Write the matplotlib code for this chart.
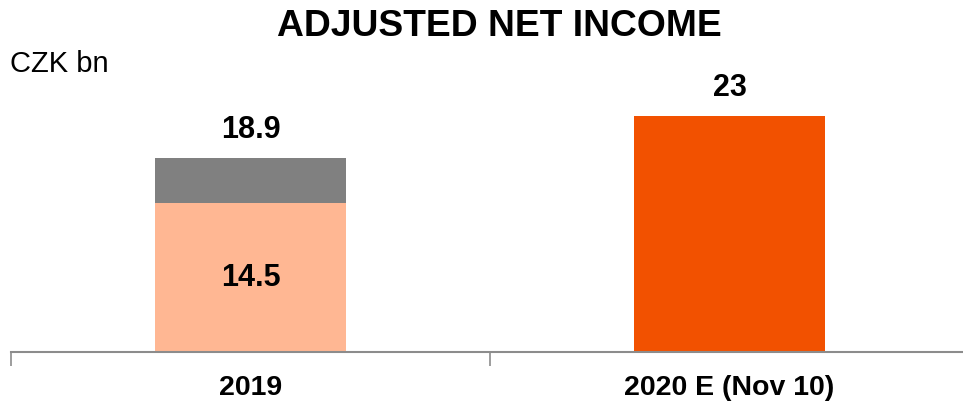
import matplotlib.pyplot as plt
import numpy as np

plt.rcParams['font.family'] = ['Liberation Sans', 'DejaVu Sans']

# adjusted net income, CZK bn
categories = ['2019', '2020 E (Nov 10)']
base = [14.5, 23.0]
extra = [4.4, 0.0]
totals = [18.9, 23.0]
total_labels = ['18.9', '23']
base_colors = ['#FFB793', '#F25100']

fig = plt.figure(figsize=(9.63, 4.01), dpi=100)
# axes run from the left tick at x=11px to just past the right edge
ax = fig.add_axes([11 / 963, 49 / 401, 958 / 963, 292 / 401])

x = np.arange(len(categories))
ax.bar(x, base, width=0.4, color=base_colors, zorder=2)
ax.bar(x, extra, width=0.4, bottom=base, color='#808080', zorder=2)

ax.set_xlim(-0.5, 1.5)
ax.set_ylim(0, 292 / 10.25)

# value labels
ax.text(x[0], base[0] / 2, '14.5', ha='center', va='center',
        fontsize=22, fontweight='bold')
for xi, t, lab in zip(x, totals, total_labels):
    ax.text(xi, t + 2.75, lab, ha='center', va='center',
            fontsize=22, fontweight='bold')

for s in ['top', 'right', 'left']:
    ax.spines[s].set_visible(False)
ax.spines['bottom'].set_color('#8c8c8c')
ax.spines['bottom'].set_linewidth(1.5)
ax.set_yticks([])
ax.set_xticks([-0.5, 0.5, 1.5])
ax.set_xticklabels([])
ax.tick_params(axis='x', length=10, width=1.2, color='#8c8c8c')

for xi, cat in zip(x, categories):
    ax.text(xi, -3.5, cat, ha='center', va='center', fontsize=20.5,
            fontweight='bold', clip_on=False)

fig.text(0.519, 1 - 27 / 401, 'ADJUSTED NET INCOME', ha='center', va='center',
         fontsize=26.8, fontweight='bold')
fig.text(10 / 963, 1 - 64 / 401, 'CZK bn', ha='left', va='center',
         fontsize=21)

fig.savefig('out.png', dpi=100)
